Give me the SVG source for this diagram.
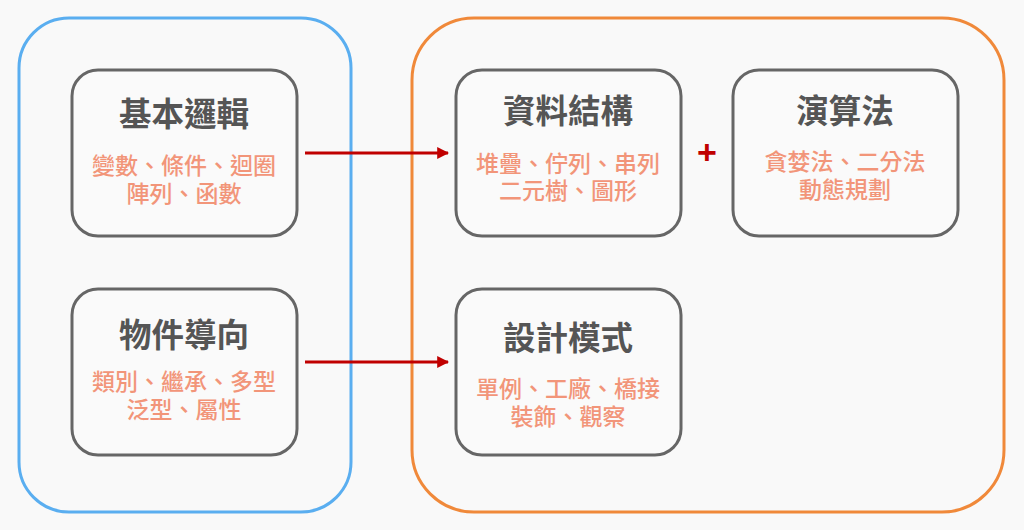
<svg xmlns="http://www.w3.org/2000/svg" width="1024" height="530" viewBox="0 0 1024 530">
<defs>
<style>
.bg{fill:#f9f9f9}
.box{fill:#fafafa;stroke:#666666;stroke-width:3}
.title{font-family:"Noto Sans CJK TC","Noto Sans CJK SC",sans-serif;font-size:32.5px;font-weight:bold;fill:#555555;text-anchor:middle}
.sub{font-family:"Noto Sans CJK TC","Noto Sans CJK SC",sans-serif;font-size:23px;font-weight:500;fill:#f29579;text-anchor:middle}
.conn{stroke:#c00000;stroke-width:3;fill:none}
</style>
<marker id="ah" viewBox="0 0 10 10" refX="9" refY="5" markerWidth="4" markerHeight="4" orient="auto" markerUnits="strokeWidth">
<path d="M0,0 L10,5 L0,10 Z" fill="#c00000"/>
</marker>
</defs>
<rect class="bg" x="0" y="0" width="1024" height="530"/>
<g id="group-left">
<rect x="19" y="18" width="332" height="494" rx="50" ry="50" fill="none" stroke="#5aaef0" stroke-width="3"/>
</g>
<g id="group-right">
<rect x="412" y="18" width="592" height="494" rx="62" ry="62" fill="none" stroke="#f0893a" stroke-width="3"/>
</g>
<g id="node-basic">
<rect class="box" x="72" y="70" width="225" height="166" rx="26" ry="26"/>
<text class="title" x="184" y="126">基本邏輯</text>
<text class="sub" x="184" y="174">變數、條件、迴圈</text>
<text class="sub" x="184" y="202">陣列、函數</text>
</g>
<g id="node-oop">
<rect class="box" x="72" y="289" width="225" height="166" rx="26" ry="26"/>
<text class="title" x="184" y="347">物件導向</text>
<text class="sub" x="184" y="390">類別、繼承、多型</text>
<text class="sub" x="184" y="418">泛型、屬性</text>
</g>
<g id="node-ds">
<rect class="box" x="456" y="70" width="225" height="166" rx="26" ry="26"/>
<text class="title" x="568" y="123">資料結構</text>
<text class="sub" x="568" y="172">堆疊、佇列、串列</text>
<text class="sub" x="568" y="199">二元樹、圖形</text>
</g>
<g id="node-algo">
<rect class="box" x="733" y="70" width="225" height="166" rx="26" ry="26"/>
<text class="title" x="845" y="123">演算法</text>
<text class="sub" x="845" y="170">貪婪法、二分法</text>
<text class="sub" x="845" y="198">動態規劃</text>
</g>
<g id="node-dp">
<rect class="box" x="456" y="289" width="225" height="166" rx="26" ry="26"/>
<text class="title" x="568" y="350">設計模式</text>
<text class="sub" x="568" y="397">單例、工廠、橋接</text>
<text class="sub" x="568" y="425">裝飾、觀察</text>
</g>
<g id="connectors">
<line class="conn" x1="305" y1="153" x2="448" y2="153" marker-end="url(#ah)"/>
<line class="conn" x1="305" y1="362" x2="448" y2="362" marker-end="url(#ah)"/>
<text x="707" y="164" font-family="'Liberation Sans',sans-serif" font-size="34" font-weight="bold" fill="#c00000" text-anchor="middle">+</text>
</g>
</svg>
